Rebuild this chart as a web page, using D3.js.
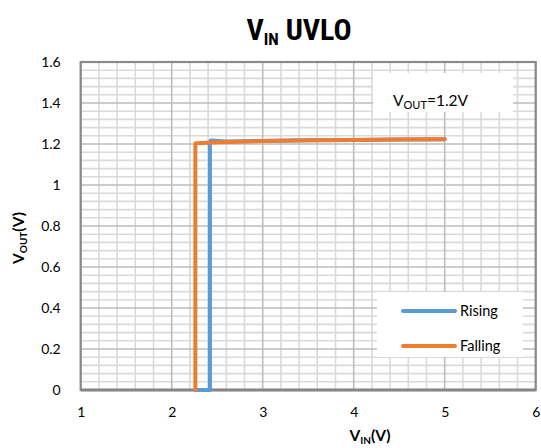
<!DOCTYPE html>
<html><head><meta charset="utf-8">
<script src="https://cdn.jsdelivr.net/npm/d3@7/dist/d3.min.js"></script>
<style>body{margin:0;background:#fff}svg{display:block}</style>
</head><body>
<svg id="c" width="541" height="448"></svg>
<script>
const xTicks = [1, 2, 3, 4, 5, 6];
const yTicks = [0, 0.2, 0.4, 0.6, 0.8, 1, 1.2, 1.4, 1.6];
const yTickLabels = ["0", "0.2", "0.4", "0.6", "0.8", "1", "1.2", "1.4", "1.6"];
const risingX = [2.26, 2.42, 2.42, 2.43, 2.6, 3, 3.5, 4, 4.5, 5];
const risingY = [0, 0, 1.21, 1.217, 1.212, 1.215, 1.218, 1.22, 1.222, 1.223];
const fallingX = [5, 4.5, 4, 3.5, 3, 2.5, 2.27, 2.26, 2.26];
const fallingY = [1.223, 1.222, 1.22, 1.218, 1.215, 1.208, 1.204, 1.202, 0];
const seriesNames = ["Rising", "Falling"];
const seriesColors = ["#5b9bd5", "#ed7d31"];

const svg = d3.select("#c");
const L = 80.7, R = 535.7, T = 62, B = 390;
const x = d3.scaleLinear().domain([1, 6]).range([L, R]);
const y = d3.scaleLinear().domain([0, 1.6]).range([B, T]);
const tickFont = "Lato, 'Open Sans', sans-serif";

// minor gridlines
const g = svg.append("g");
const minorX = d3.range(1, 6.0001, 0.2).filter(v => Math.abs(v - Math.round(v)) > 1e-6);
const minorY = d3.range(0, 1.6001, 0.04).filter(v => Math.abs(v / 0.2 - Math.round(v / 0.2)) > 1e-6);
g.selectAll(".mx").data(minorX).join("line")
  .attr("x1", d => x(d)).attr("x2", d => x(d)).attr("y1", T).attr("y2", B)
  .attr("stroke", "#dadada").attr("stroke-width", 1.6);
g.selectAll(".my").data(minorY).join("line")
  .attr("y1", d => y(d)).attr("y2", d => y(d)).attr("x1", L).attr("x2", R)
  .attr("stroke", "#dadada").attr("stroke-width", 1.6);
// major gridlines
g.selectAll(".Mx").data(xTicks).join("line")
  .attr("x1", d => x(d)).attr("x2", d => x(d)).attr("y1", T).attr("y2", B)
  .attr("stroke", "#bdbdbd").attr("stroke-width", 1.6);
g.selectAll(".My").data(yTicks).join("line")
  .attr("y1", d => y(d)).attr("y2", d => y(d)).attr("x1", L).attr("x2", R)
  .attr("stroke", "#bdbdbd").attr("stroke-width", 1.6);

// plot border
svg.append("rect").attr("x", L).attr("y", T).attr("width", R - L).attr("height", B - T)
  .attr("fill", "none").attr("stroke", "#8a8a8a").attr("stroke-width", 2.2);
svg.append("line").attr("x1", L).attr("x2", R).attr("y1", B).attr("y2", B)
  .attr("stroke", "#868686").attr("stroke-width", 3);

// axes (labels only)
const xAxis = svg.append("g").attr("transform", `translate(0,${B})`)
  .call(d3.axisBottom(x).tickValues(xTicks).tickSize(0).tickPadding(17).tickFormat(d3.format("d")));
const yAxis = svg.append("g").attr("transform", `translate(${L},0)`)
  .call(d3.axisLeft(y).tickValues(yTicks).tickSize(0).tickPadding(20).tickFormat((d, i) => yTickLabels[i]));
[xAxis, yAxis].forEach(a => {
  a.select(".domain").remove();
  a.selectAll("text").attr("font-family", tickFont).attr("font-size", 14).attr("fill", "#000");
});

// series
const line = d3.line().x(d => x(d[0])).y(d => y(d[1]));
const rising = risingX.map((v, i) => [v, risingY[i]]);
const falling = fallingX.map((v, i) => [v, fallingY[i]]);
[rising, falling].forEach((s, i) => {
  svg.append("path").datum(s).attr("d", line).attr("fill", "none")
    .attr("stroke", seriesColors[i]).attr("stroke-width", 4)
    .attr("stroke-linejoin", "round").attr("stroke-linecap", "round");
});

// annotation box
svg.append("rect").attr("x", 373).attr("y", 73).attr("width", 140).attr("height", 39).attr("fill", "#fff");
const ann = svg.append("text").attr("x", 393).attr("y", 106).attr("font-family", tickFont).attr("font-size", 15.5);
ann.append("tspan").text("V");
ann.append("tspan").attr("font-size", 11).attr("dy", 3).text("OUT");
ann.append("tspan").attr("dy", -3).text("=1.2V");

// legend
svg.append("rect").attr("x", 377).attr("y", 292).attr("width", 146).attr("height", 65).attr("fill", "#fff");
seriesNames.forEach((n, i) => {
  const ly = 311 + i * 35;
  svg.append("line").attr("x1", 403).attr("x2", 455).attr("y1", ly).attr("y2", ly)
    .attr("stroke", seriesColors[i]).attr("stroke-width", 4).attr("stroke-linecap", "round");
  svg.append("text").attr("x", 460).attr("y", ly + 5).attr("font-family", tickFont)
    .attr("font-size", 14.5).text(n);
});

// title
const titleFont = "'Liberation Sans Narrow', 'Arial Narrow', 'Roboto Condensed', sans-serif";
const title = svg.append("text").attr("x", 299).attr("y", 40).attr("text-anchor", "middle")
  .attr("font-family", titleFont).attr("font-weight", "bold").attr("font-size", 30);
title.append("tspan").text("V");
title.append("tspan").attr("font-size", 17).attr("dy", 5).text("IN");
title.append("tspan").attr("dy", -5).text(" UVLO");

// axis titles
const xt = svg.append("text").attr("x", 370).attr("y", 441).attr("text-anchor", "middle")
  .attr("font-family", tickFont).attr("font-weight", "bold").attr("font-size", 15.5);
xt.append("tspan").text("V");
xt.append("tspan").attr("font-size", 10).attr("dy", 3).text("IN");
xt.append("tspan").attr("dy", -3).text("(V)");

const yt = svg.append("text").attr("transform", "translate(24,238) rotate(-90)").attr("text-anchor", "middle")
  .attr("font-family", tickFont).attr("font-weight", "bold").attr("font-size", 15.5);
yt.append("tspan").text("V");
yt.append("tspan").attr("font-size", 10).attr("dy", 3).text("OUT");
yt.append("tspan").attr("dy", -3).text("(V)");
</script>
</body></html>
